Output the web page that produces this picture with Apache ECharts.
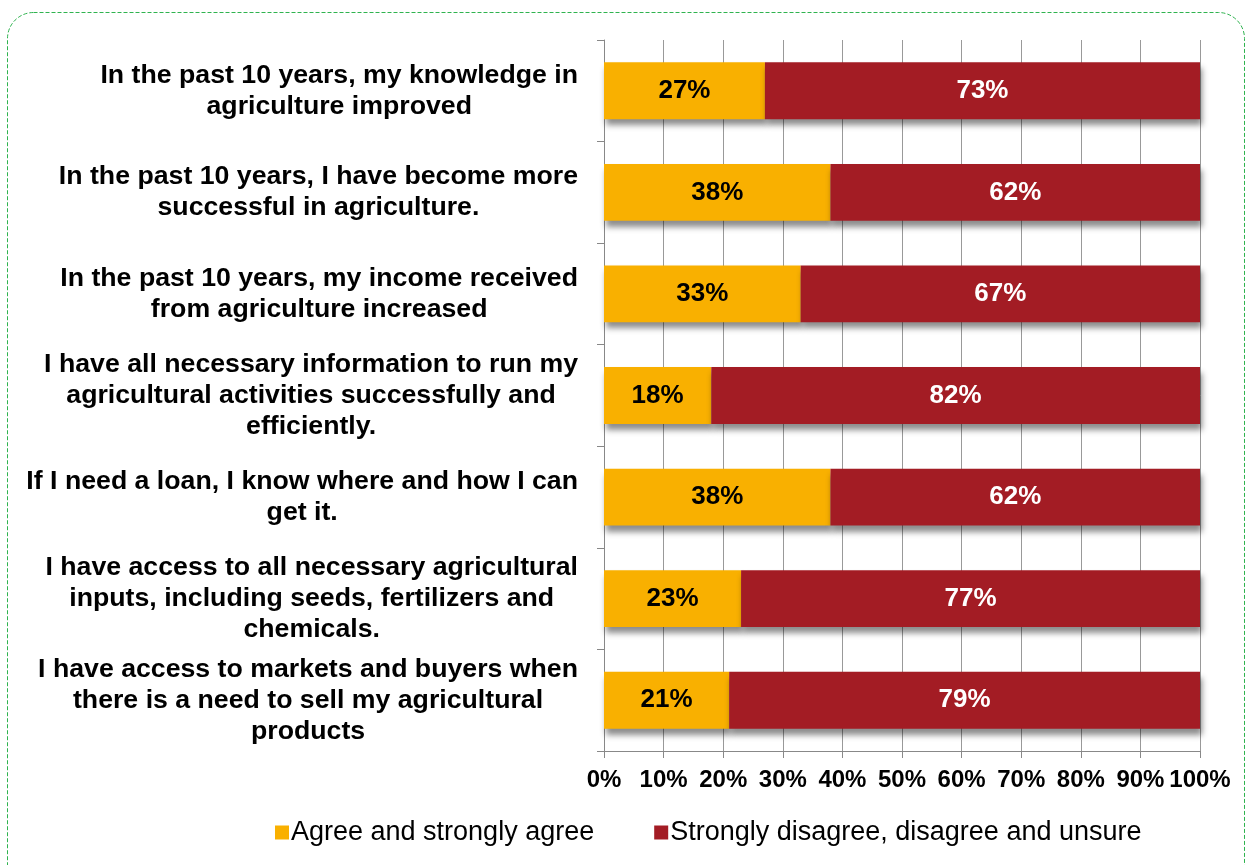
<!DOCTYPE html>
<html>
<head>
<meta charset="utf-8">
<script src="https://cdn.jsdelivr.net/npm/echarts@6/dist/echarts.min.js"></script>
<style>
  html, body { margin: 0; padding: 0; background: #fff; }
  #chart { width: 1250px; height: 865px; }
</style>
</head>
<body>
<div id="chart"></div>
<script>
// Survey statements (top to bottom)
var statements = [
  'In the past 10 years, my knowledge in\nagriculture improved',
  'In the past 10 years, I have become more\nsuccessful in agriculture.',
  'In the past 10 years, my income received\nfrom agriculture increased',
  'I have all necessary information to run my\nagricultural activities successfully and\nefficiently.',
  'If I need a loan, I know where and how I can\nget it.',
  'I have access to all necessary agricultural\ninputs, including seeds, fertilizers and\nchemicals.',
  'I have access to markets and buyers when\nthere is a need to sell my agricultural\nproducts'
];
// Share of respondents, percent
var agreeShare = [27, 38, 33, 18, 38, 23, 21];
var disagreeShare = [73, 62, 67, 82, 62, 77, 79];
var seriesNames = ['Agree and strongly agree', 'Strongly disagree, disagree and unsure'];

var FONT = 'Arial, "Liberation Sans", sans-serif';
var chart = echarts.init(document.getElementById('chart'), null, { renderer: 'canvas' });

var barShadow = {
  shadowColor: 'rgba(0,0,0,0.45)',
  shadowBlur: 6,
  shadowOffsetX: 2,
  shadowOffsetY: 6
};

chart.setOption({
  animation: false,
  backgroundColor: '#ffffff',
  graphic: [{
    type: 'rect',
    left: 5, top: 10,
    shape: { width: 1237, height: 900, r: 26 },
    style: { fill: 'none', stroke: '#2fb34f', lineWidth: 1, lineDash: [4, 2] },
    silent: true, z: -1
  }],
  grid: { left: 604, right: 50, top: 40, bottom: 114, containLabel: false },
  legend: {
    top: 814,
    left: 270,
    itemWidth: 14, itemHeight: 14, itemGap: 60,
    icon: 'rect',
    textStyle: { fontFamily: FONT, fontSize: 27, color: '#000', padding: [0, 0, 0, -3] },
    data: seriesNames
  },
  xAxis: {
    type: 'value',
    min: 0, max: 100, interval: 10,
    axisLine: { show: true, lineStyle: { color: '#888', width: 1 } },
    axisTick: { show: true, length: 7, lineStyle: { color: '#888' } },
    splitLine: { show: true, lineStyle: { color: '#999', width: 1 } },
    axisLabel: {
      margin: 17,
      fontFamily: FONT, fontSize: 24, fontWeight: 'bold', color: '#000',
      formatter: function (v) { return v + '%'; }
    }
  },
  yAxis: {
    type: 'category',
    inverse: true,
    data: statements,
    axisLine: { show: true, lineStyle: { color: '#888', width: 1 } },
    axisTick: { show: true, length: 7, lineStyle: { color: '#888' } },
    splitLine: { show: false },
    axisLabel: {
      margin: 26,
      align: 'right',
      fontFamily: FONT, fontSize: 26.7, fontWeight: 'bold', color: '#000',
      lineHeight: 31,
      formatter: function (v) {
        return v.split('\n').map(function (s) { return '{c|' + s + '}'; }).join('\n');
      },
      rich: {
        c: { align: 'center', fontFamily: FONT, fontSize: 26.7, fontWeight: 'bold', color: '#000', lineHeight: 31 }
      }
    }
  },
  series: [
    {
      name: seriesNames[0],
      type: 'bar',
      stack: 'share',
      barWidth: '56%',
      data: agreeShare,
      itemStyle: Object.assign({ color: '#f9b000' }, barShadow),
      label: {
        show: true, position: 'inside',
        fontFamily: FONT, fontSize: 26, fontWeight: 'bold', color: '#000',
        formatter: function (p) { return p.value + '%'; }
      }
    },
    {
      name: seriesNames[1],
      type: 'bar',
      stack: 'share',
      barWidth: '56%',
      data: disagreeShare,
      itemStyle: Object.assign({ color: '#a31c24' }, barShadow),
      label: {
        show: true, position: 'inside',
        fontFamily: FONT, fontSize: 26, fontWeight: 'bold', color: '#fff',
        formatter: function (p) { return p.value + '%'; }
      }
    }
  ]
});
</script>
</body>
</html>
